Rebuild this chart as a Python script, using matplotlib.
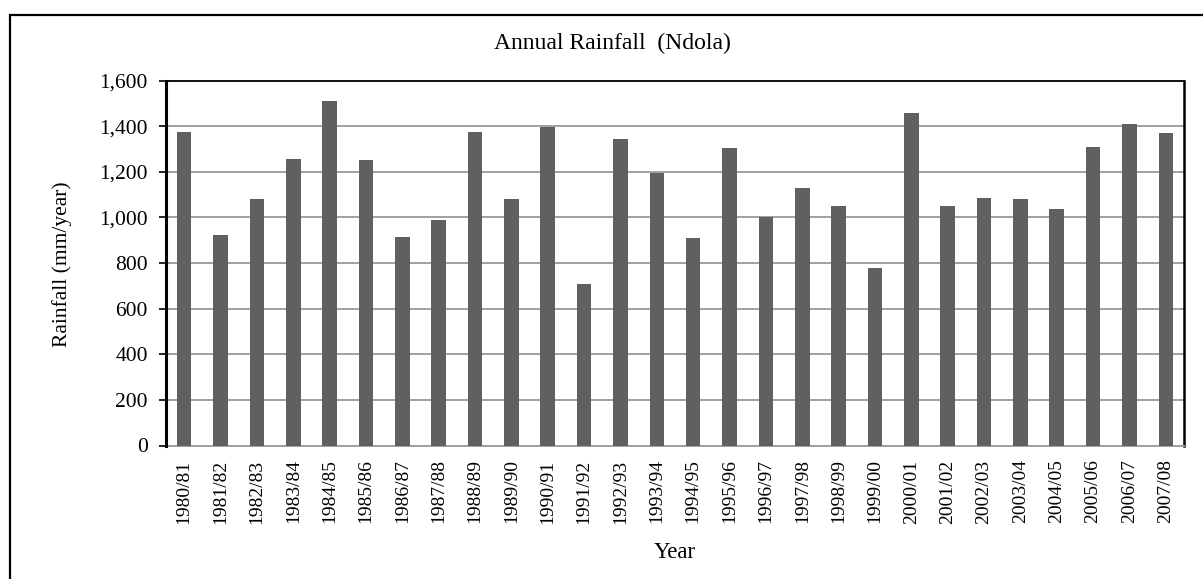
import matplotlib
matplotlib.use("Agg")
import matplotlib.pyplot as plt
from matplotlib.patches import Rectangle
import numpy as np

years = ['1980/81', '1981/82', '1982/83', '1983/84', '1984/85', '1985/86',
         '1986/87', '1987/88', '1988/89', '1989/90', '1990/91', '1991/92',
         '1992/93', '1993/94', '1994/95', '1995/96', '1996/97', '1997/98',
         '1998/99', '1999/00', '2000/01', '2001/02', '2002/03', '2003/04',
         '2004/05', '2005/06', '2006/07', '2007/08']
rainfall = [1374, 923, 1080, 1258, 1511, 1251,
            916, 987, 1374, 1080, 1395, 707,
            1345, 1194, 909, 1302, 1002, 1130,
            1050, 780, 1458, 1050, 1087, 1079,
            1037, 1310, 1409, 1372]
y_ticks = [0, 200, 400, 600, 800, 1000, 1200, 1400, 1600]

plt.rcParams['font.family'] = ['Liberation Serif', 'DejaVu Serif']

W, H = 1203, 579
fig = plt.figure(figsize=(W / 100, H / 100), dpi=100)

# outer chart border (runs off the right and bottom edges)
fig.patches.append(Rectangle((10 / W, -0.05), 1.1, 1 - 15 / H + 0.05,
                             transform=fig.transFigure, fill=False,
                             edgecolor='black', linewidth=1.6))

left, right, top, bottom = 166, 1184, 80.5, 445.5
ax = fig.add_axes([left / W, 1 - bottom / H, (right - left) / W, (bottom - top) / H])

x = np.arange(len(years))
ax.bar(x, rainfall, width=0.4, color='#606060', zorder=3)

ax.set_xlim(-0.5, len(years) - 0.5)
ax.set_ylim(0, 1600)
ax.set_yticks(y_ticks)
ax.set_yticklabels([f'{v:,}' for v in y_ticks], fontsize=15.5)
ax.set_xticks(x)
ax.set_xticklabels(years, rotation=90, fontsize=14)
ax.tick_params(axis='x', length=0, pad=10)
ax.tick_params(axis='y', length=5, width=1.2, direction='out', pad=8)

ax.yaxis.grid(True, color='#a0a0a0', linewidth=1.4, zorder=0)
ax.set_axisbelow(True)

ax.spines['left'].set_linewidth(2.2)
ax.spines['left'].set_zorder(4)
ax.spines['top'].set_linewidth(1.3)
ax.spines['right'].set_linewidth(1.8)
ax.spines['bottom'].set_color('#a0a0a0')
ax.spines['bottom'].set_linewidth(1.4)

fig.text(612 / W, 1 - 43 / H, 'Annual Rainfall  (Ndola)', ha='center', va='center', fontsize=17)
fig.text(62 / W, 1 - 264 / H, 'Rainfall (mm/year)', ha='center', va='center',
         rotation=90, fontsize=15.5)
fig.text(675 / W, 1 - 552 / H, 'Year', ha='center', va='center', fontsize=16.5)

fig.savefig('out.png', dpi=100)
